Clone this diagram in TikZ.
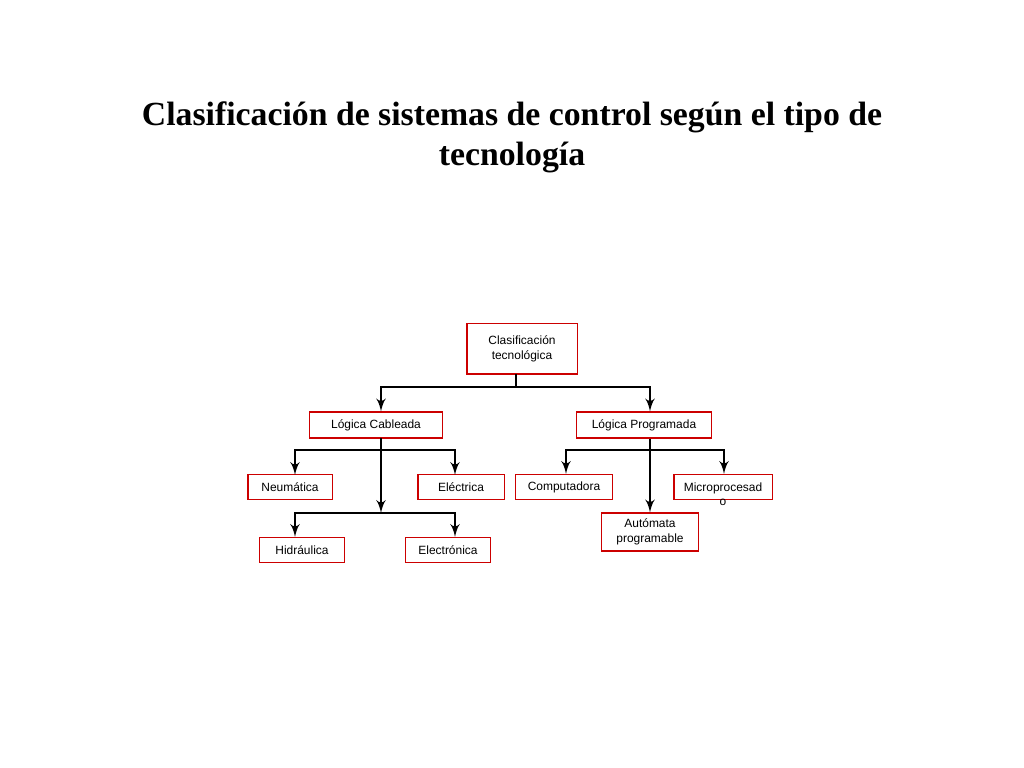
\documentclass[tikz,border=0pt]{standalone}
\usepackage{fontspec}
\setmainfont{Liberation Serif}
\newfontfamily\boxfont{Liberation Sans}
\usetikzlibrary{arrows}

\begin{document}
\begin{tikzpicture}[x=0.01cm,y=-0.01cm]

\tikzset{caja/.style = {draw=red!80!black,line width=0.3pt,inner sep=0pt,align=center,
  font=\boxfont\fontsize{3.4pt}{4.1pt}\selectfont}}
\tikzset{edge/.style = {->,> = latex',line width=0.3pt}}
\useasboundingbox (0,0) rectangle (1024,768);

% title
\node[font=\bfseries\fontsize{9.6pt}{11.4pt}\selectfont,align=center] (title) at (512,137)
  {Clasificación de sistemas de control según el tipo de\\tecnología};

% boxes
\node[caja,minimum width=1.10cm,minimum height=0.50cm] (root) at (522,349) {Clasificación\\tecnológica};
\node[caja,minimum width=1.32cm,minimum height=0.26cm] (cab) at (376,425) {Lógica Cableada};
\node[caja,minimum width=1.34cm,minimum height=0.26cm] (prog) at (644,425) {Lógica Programada};
\node[caja,minimum width=0.84cm,minimum height=0.25cm] (neu) at (290,487) {Neumática};
\node[caja,minimum width=0.86cm,minimum height=0.25cm] (ele) at (461,487) {Eléctrica};
\node[caja,minimum width=0.85cm,minimum height=0.25cm] (hid) at (302,550) {Hidráulica};
\node[caja,minimum width=0.85cm,minimum height=0.25cm] (elec) at (448,550) {Electrónica};
\node[caja,minimum width=0.97cm,minimum height=0.25cm] (comp) at (564,487) {Computadora};
\node[caja,minimum width=0.98cm,minimum height=0.25cm] (micro) at (723,487) {};
\node[font=\boxfont\fontsize{3.4pt}{4.1pt}\selectfont,align=center,anchor=north,inner sep=0pt] (microtxt)
  at (723,482) {Microprocesad\\o};
\node[caja,minimum width=0.97cm,minimum height=0.38cm] (aut) at (650,532) {Autómata\\programable};

% coordinates
\coordinate (r1) at (516,374);
\coordinate (r2) at (516,387);
\coordinate (c0) at (381,438);
\coordinate (cm) at (381,513);

%edges
\draw[line width=0.3pt] (r1) -- (r2);
\draw[edge] (r2) -| (cab.north -| c0);
\draw[edge] (r2) -| (prog.north -| aut.north);
\draw[edge] (c0) -- (cm);
\draw[edge] (381,450) -| (295,475);
\draw[edge] (381,450) -| (455,475);
\draw[edge] (cm) -| (hid.north -| 295,0);
\draw[edge] (cm) -| (elec.north -| 455,0);
\draw[edge] (prog.south -| aut.north) -- (aut.north);
\draw[edge] (650,450) -| (comp.north -| 566,0);
\draw[edge] (650,450) -| (micro.north -| 724,0);

\end{tikzpicture}
\end{document}
